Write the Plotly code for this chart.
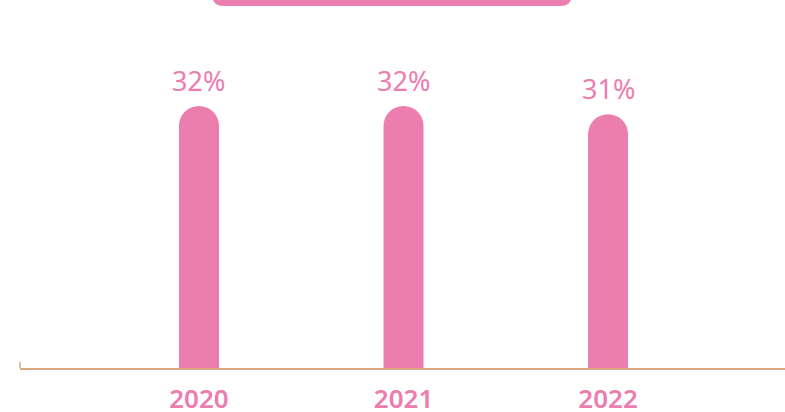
import plotly.graph_objects as go

categories = ["2020", "2021", "2022"]
values = [32, 32, 31]
labels = ["32%", "32%", "31%"]

PINK = "#EC7DAF"
AXIS = "#D7A97E"
FONT = "Noto Sans"

fig = go.Figure()
fig.add_trace(go.Bar(
    x=list(range(len(categories))), y=values,
    marker=dict(color=PINK, line=dict(width=0)),
    width=40 / 204.5,
    hoverinfo="skip",
))

for i, (v, t) in enumerate(zip(values, labels)):
    fig.add_annotation(x=i, y=v, text=t, showarrow=False, yanchor="bottom",
                       yshift=5, font=dict(family=FONT, size=27, color=PINK))

# title box (cut off at top)
fig.add_shape(type="path", xref="paper", yref="paper", xsizemode="pixel", ysizemode="pixel",
              xanchor=0, yanchor=1,
              path="M192,30 L192,6 Q192,-6 204,-6 L540,-6 Q552,-6 552,6 L552,30 Z",
              fillcolor=PINK, line=dict(width=0), layer="above")
# left tick of axis
fig.add_shape(type="line", xref="paper", yref="paper", ysizemode="pixel", yanchor=0,
              x0=0, x1=0, y0=0, y1=6, line=dict(color=AXIS, width=1.5))

fig.update_layout(
    width=785, height=412,
    margin=dict(l=20, r=0, t=0, b=44, autoexpand=False),
    paper_bgcolor="white", plot_bgcolor="white",
    showlegend=False,
    barcornerradius=20,
    xaxis=dict(range=[-0.875, 2.865], tickmode="array", tickvals=list(range(len(categories))),
               ticktext=categories, showgrid=False, zeroline=False, automargin=False,
               showline=True, linecolor=AXIS, linewidth=1.5, ticks="",
               ticklabelstandoff=7,
               tickfont=dict(family=FONT, size=26, color=PINK, weight=600),
               fixedrange=True),
    yaxis=dict(range=[0, 368 / (262 / 32)], visible=False, fixedrange=True, automargin=False),
)

fig.write_html("out.html", config={"displayModeBar": False},
               post_script="document.body.style.margin='0';")
